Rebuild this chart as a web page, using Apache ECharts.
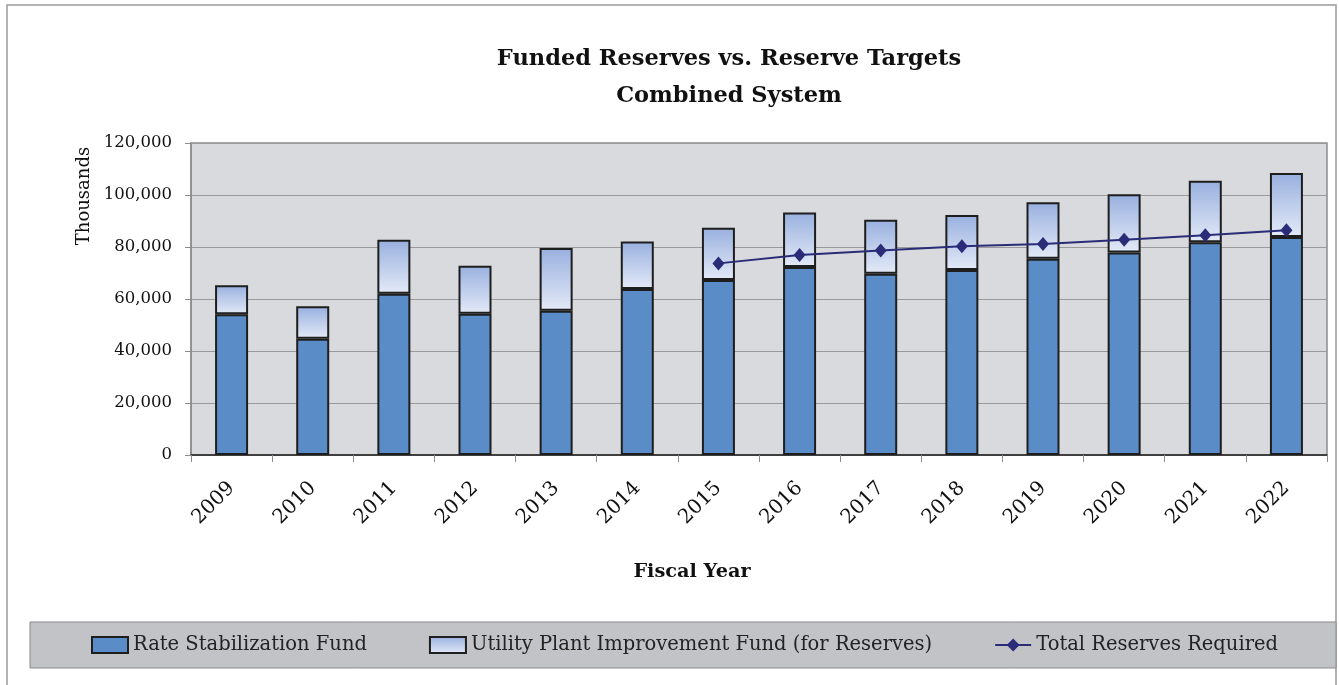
<!DOCTYPE html>
<html><head><meta charset="utf-8">
<script src="https://cdn.jsdelivr.net/npm/echarts@6/dist/echarts.min.js"></script>
<style>html,body{margin:0;padding:0;background:#fff}#c{width:1339px;height:685px}</style>
</head><body><div id="c"></div>
<script>
var categories = ['2009','2010','2011','2012','2013','2014','2015','2016','2017','2018','2019','2020','2021','2022'];
var rateStabilization = [54100,44700,62000,54300,55500,63800,67300,72300,69700,71200,75500,77900,81800,83800];
var utilityPlant = [11200,12500,20800,18500,24100,18300,20100,21000,20800,21100,21700,22400,23700,24700];
var totalRequired = [null,null,null,null,null,null,73700,76900,78700,80300,81200,82800,84500,86400];
var yTicks = [0,20000,40000,60000,80000,100000,120000];

var serif = 'DejaVu Serif';
var chart = echarts.init(document.getElementById('c'), null, {renderer:'canvas'});
chart.setOption({
  backgroundColor:'#fff',
  animation:false,
  title:{text:'Funded Reserves vs. Reserve Targets\nCombined System',left:724,top:36,textAlign:'center',
    textStyle:{fontFamily:serif,fontWeight:'bold',fontSize:22.5,color:'#111',lineHeight:37}},
  graphic:[
    {type:'rect',z:-10,shape:{x:7,y:5,width:1329,height:700},style:{fill:'none',stroke:'#999',lineWidth:1.5}},
    {type:'rect',z:-5,shape:{x:30,y:622,width:1306,height:46},style:{fill:'#c2c3c6',stroke:'#8a8a8a',lineWidth:1}},
    {type:'text',x:84,y:196,rotation:Math.PI/2,style:{text:'Thousands',fontFamily:serif,fontSize:18,fill:'#111',align:'center',verticalAlign:'middle'}},
    {type:'text',x:692,y:572,style:{text:'Fiscal Year',fontFamily:serif,fontSize:19.3,fontWeight:'bold',fill:'#111',align:'center',verticalAlign:'middle'}}
  ],
  legend:{top:630,left:86,itemGap:62,itemWidth:36,itemHeight:16,
    textStyle:{fontFamily:serif,fontSize:19.5,color:'#222'},
    data:[
      {name:'Rate Stabilization Fund',icon:'rect'},
      {name:'Utility Plant Improvement Fund (for Reserves)',icon:'rect'},
      {name:'Total Reserves Required'}
    ]},
  grid:{left:191,right:12,top:143,bottom:230,show:true,backgroundColor:'#d9dadd',borderColor:'#8c8c8c',borderWidth:1.5},
  xAxis:{type:'category',data:categories,boundaryGap:true,
    axisLine:{lineStyle:{color:'#222',width:1.5}},
    axisTick:{show:true,length:7,lineStyle:{color:'#8c8c8c'}},
    axisLabel:{rotate:45,fontFamily:serif,fontSize:20,color:'#111',margin:30}},
  yAxis:{type:'value',min:0,max:120000,interval:20000,
    axisLine:{show:true,lineStyle:{color:'#8c8c8c',width:1.5}},
    axisTick:{show:true,length:6,lineStyle:{color:'#8c8c8c'}},
    splitLine:{lineStyle:{color:'#9a9a9a',width:1.2}},
    axisLabel:{fontFamily:serif,fontSize:16.5,color:'#111',margin:19,
      formatter:function(v){return yTicks.indexOf(v)>=0?v.toLocaleString('en-US'):'';}}},
  series:[
    {name:'Rate Stabilization Fund',type:'bar',stack:'r',data:rateStabilization,barWidth:33,
     itemStyle:{color:'#5a8cc8',borderColor:'#1e1e1e',borderWidth:2}},
    {name:'Utility Plant Improvement Fund (for Reserves)',type:'bar',stack:'r',data:utilityPlant,barWidth:33,
     itemStyle:{color:new echarts.graphic.LinearGradient(0,0,0,1,[{offset:0,color:'#98b0df'},{offset:1,color:'#e4eaf7'}]),borderColor:'#1e1e1e',borderWidth:2}},
    {name:'Total Reserves Required',type:'line',data:totalRequired,symbol:'diamond',symbolSize:[12,14],
     lineStyle:{color:'#2a2c78',width:2},itemStyle:{color:'#2a2c78'},z:5}
  ]
});
</script></body></html>
